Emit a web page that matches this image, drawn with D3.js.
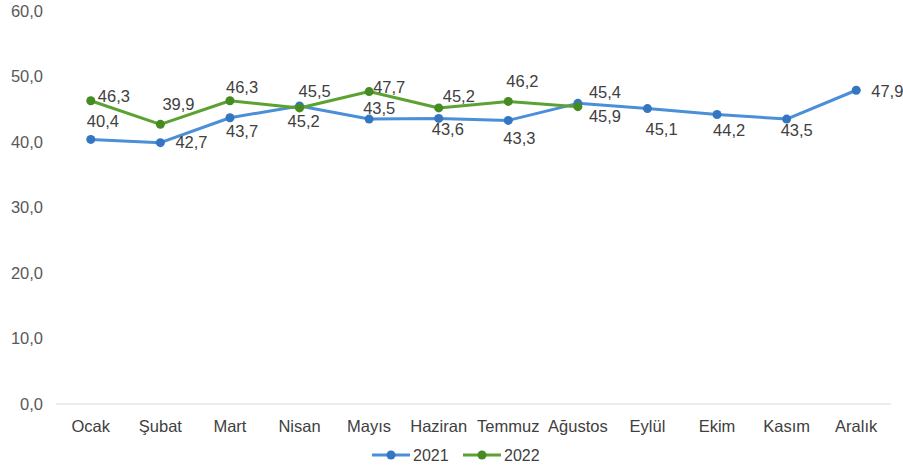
<!DOCTYPE html>
<html>
<head>
<meta charset="utf-8">
<script src="https://cdn.jsdelivr.net/npm/d3@7"></script>
<style>
  body { margin: 0; background: #fff; }
  text { font-family: "Liberation Sans", Arial, sans-serif; }
</style>
</head>
<body>
<div id="chart"></div>
<script>
const months = ["Ocak", "Şubat", "Mart", "Nisan", "Mayıs", "Haziran", "Temmuz", "Ağustos", "Eylül", "Ekim", "Kasım", "Aralık"];
const values2021 = [40.4, 39.9, 43.7, 45.5, 43.5, 43.6, 43.3, 45.9, 45.1, 44.2, 43.5, 47.9];
const values2022 = [46.3, 42.7, 46.3, 45.2, 47.7, 45.2, 46.2, 45.4];
const yTicks = [0, 10, 20, 30, 40, 50, 60];
const seriesNames = ["2021", "2022"];

// label offsets (dx, dy) from each point, as placed in the original chart
const offs2021 = [[-4,-12],[2,-33],[-4,19],[-1,-9],[-6,-5],[-7,17],[-5,24],[11,19],[-2,26],[-4,22],[-6,17],[15,7]];
const offs2022 = [[7,1],[15,24],[-4,-8],[-12,19],[4,1],[4,-6],[-2,-14],[11,-9]];

const W = 903, H = 476;
const svg = d3.select("#chart").append("svg")
  .attr("width", W)
  .attr("height", H);

const x = d3.scaleBand().domain(months).range([56, 891]).padding(0);
const y = d3.scaleLinear().domain([0, 60]).range([404, 11]);
const fmt = v => d3.format(".1f")(v).replace(".", ",");

// baseline
svg.append("line")
  .attr("x1", 56).attr("x2", 891)
  .attr("y1", y(0)).attr("y2", y(0))
  .attr("stroke", "#d9d9d9").attr("stroke-width", 1);

// y tick labels
svg.selectAll(".ytick")
  .data(yTicks)
  .enter().append("text")
  .attr("x", 43)
  .attr("y", d => y(d))
  .attr("dy", "0.35em")
  .attr("text-anchor", "end")
  .attr("font-size", 16.5)
  .attr("fill", "#595959")
  .text(d => fmt(d));

// month labels
svg.selectAll(".xlab")
  .data(months)
  .enter().append("text")
  .attr("x", d => x(d) + x.bandwidth() / 2)
  .attr("y", 432)
  .attr("text-anchor", "middle")
  .attr("font-size", 16.5)
  .attr("fill", "#404040")
  .text(d => d);

const series = [
  { name: seriesNames[0], values: values2021, offs: offs2021, line: "#4a8fd8", dot: "#3476c2" },
  { name: seriesNames[1], values: values2022, offs: offs2022, line: "#5ba232", dot: "#468a22" }
];

const line = d3.line()
  .x((d, i) => x(months[i]) + x.bandwidth() / 2)
  .y(d => y(d));

series.forEach(s => {
  const g = svg.append("g");
  g.append("path")
    .attr("d", line(s.values))
    .attr("fill", "none")
    .attr("stroke", s.line)
    .attr("stroke-width", 3)
    .attr("stroke-linejoin", "round");
  g.selectAll("circle")
    .data(s.values)
    .enter().append("circle")
    .attr("cx", (d, i) => x(months[i]) + x.bandwidth() / 2)
    .attr("cy", d => y(d))
    .attr("r", 4.5)
    .attr("fill", s.dot);
});

series.forEach(s => {
  svg.append("g").selectAll("text")
    .data(s.values)
    .enter().append("text")
    .attr("x", (d, i) => x(months[i]) + x.bandwidth() / 2 + s.offs[i][0])
    .attr("y", (d, i) => y(d) + s.offs[i][1])
    .attr("font-size", 16.5)
    .attr("fill", "#404040")
    .text(d => fmt(d));
});

// legend
const legend = svg.append("g").attr("transform", "translate(372,455)");
series.forEach((s, i) => {
  const lg = legend.append("g").attr("transform", `translate(${i * 91},0)`);
  lg.append("line")
    .attr("x1", 0).attr("x2", 38)
    .attr("y1", 0).attr("y2", 0)
    .attr("stroke", s.line).attr("stroke-width", 3);
  lg.append("circle")
    .attr("cx", 19).attr("cy", 0).attr("r", 4.5)
    .attr("fill", s.dot);
  lg.append("text")
    .attr("x", 41).attr("y", 0)
    .attr("dy", "0.35em")
    .attr("font-size", 16)
    .attr("fill", "#404040")
    .text(s.name);
});
</script>
</body>
</html>
